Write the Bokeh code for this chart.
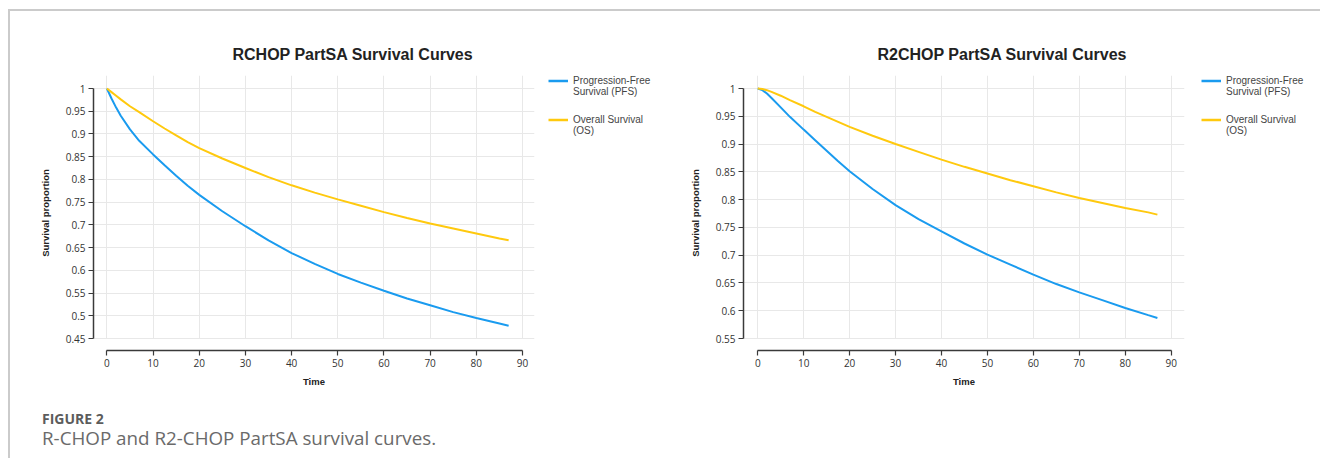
from bokeh.plotting import figure
from bokeh.models import Legend, LegendItem, FixedTicker, Div, Range1d, Grid
from bokeh.layouts import row, column
from bokeh.embed import file_html
from bokeh.resources import INLINE

# ---------------- data ----------------
time = [0, 1, 2, 3, 5, 7, 10, 12.5, 15, 17.5, 20, 25, 30, 35, 40, 45, 50, 55, 60, 65, 70, 75, 80, 85, 87]

rchop_pfs = [1.0, 0.978, 0.958, 0.940, 0.910, 0.885, 0.855, 0.831, 0.808, 0.786, 0.766, 0.730, 0.697,
             0.666, 0.638, 0.614, 0.592, 0.573, 0.555, 0.538, 0.523, 0.508, 0.495, 0.483, 0.478]
rchop_os = [1.0, 0.992, 0.984, 0.976, 0.961, 0.948, 0.928, 0.912, 0.897, 0.882, 0.869, 0.846, 0.825,
            0.805, 0.787, 0.771, 0.756, 0.742, 0.728, 0.715, 0.703, 0.692, 0.681, 0.670, 0.666]

r2chop_pfs = [1.0, 0.997, 0.991, 0.983, 0.966, 0.949, 0.926, 0.907, 0.888, 0.869, 0.851, 0.819, 0.790,
              0.765, 0.743, 0.721, 0.701, 0.683, 0.665, 0.648, 0.633, 0.619, 0.605, 0.592, 0.587]
r2chop_os = [1.0, 0.999, 0.997, 0.994, 0.987, 0.979, 0.968, 0.958, 0.949, 0.940, 0.931, 0.915, 0.900,
             0.886, 0.872, 0.859, 0.847, 0.835, 0.824, 0.813, 0.803, 0.794, 0.785, 0.777, 0.773]

x_ticks = [0, 10, 20, 30, 40, 50, 60, 70, 80, 90]
x_tick_labels = ["0", "10", "20", "30", "40", "50", "60", "70", "80", "90"]

rchop_y_ticks = [0.45, 0.5, 0.55, 0.6, 0.65, 0.7, 0.75, 0.8, 0.85, 0.9, 0.95, 1.0]
rchop_y_labels = ["0.45", "0.5", "0.55", "0.6", "0.65", "0.7", "0.75", "0.8", "0.85", "0.9", "0.95", "1"]
r2chop_y_ticks = [0.55, 0.6, 0.65, 0.7, 0.75, 0.8, 0.85, 0.9, 0.95, 1.0]
r2chop_y_labels = ["0.55", "0.6", "0.65", "0.7", "0.75", "0.8", "0.85", "0.9", "0.95", "1"]

titles = ["RCHOP PartSA Survival Curves", "R2CHOP PartSA Survival Curves"]
pfs_label = ["Progression-Free", "Survival (PFS)"]
os_label = ["Overall Survival", "(OS)"]
x_label = "Time"
y_label = "Survival proportion"
caption_head = "FIGURE 2"
caption_text = "R-CHOP and R2-CHOP PartSA survival curves."

BLUE = "#1a9bef"
YELLOW = "#ffc90e"
GRID = "#e8e8e8"
AXIS = "#3a3a3a"
TICK_FONT = "Open Sans"
BOLD_FONT = "Liberation Sans"
TOP = 58
FIG_H = TOP + 275 + 45


def make_panel(title, pfs, os_, x_range, y_range, y_ticks, y_labels, right_border, title_offset):
    p = figure(
        frame_width=441, frame_height=275,
        x_range=Range1d(*x_range), y_range=Range1d(*y_range),
        min_border_left=83, min_border_right=right_border,
        min_border_top=TOP, min_border_bottom=45,
        output_backend="svg", toolbar_location=None,
        background_fill_color="white", border_fill_color="white",
    )
    p.outline_line_color = None

    # title
    p.title.text = title
    p.title.align = "left"
    p.title.offset = title_offset
    p.title.text_font = BOLD_FONT
    p.title.text_font_style = "bold"
    p.title.text_font_size = "16px"
    p.title.text_color = "#222222"
    p.title.standoff = 25

    # axes
    xt = FixedTicker(ticks=x_ticks)
    yt = FixedTicker(ticks=y_ticks)
    p.xaxis.ticker = xt
    p.yaxis.ticker = yt
    p.xgrid.ticker = xt
    p.ygrid.ticker = yt
    p.xaxis.bounds = (x_ticks[0], x_ticks[-1])
    p.yaxis.bounds = (y_ticks[0], y_ticks[-1])
    p.xaxis.major_label_overrides = {v: s for v, s in zip(x_ticks, x_tick_labels)}
    p.yaxis.major_label_overrides = {v: s for v, s in zip(y_ticks, y_labels)}

    for ax in (p.xaxis[0], p.yaxis[0]):
        ax.axis_line_color = AXIS
        ax.axis_line_width = 1.5
        ax.major_tick_line_color = AXIS
        ax.major_tick_line_width = 1.2
        ax.major_tick_out = 5
        ax.major_tick_in = 0
        ax.minor_tick_line_color = None
        ax.major_label_text_font = TICK_FONT
        ax.major_label_text_font_size = "10px"
        ax.major_label_text_color = "#333333"
        ax.axis_label_text_font = BOLD_FONT
        ax.axis_label_text_font_style = "bold"
        ax.axis_label_text_font_size = "9.5px"
        ax.axis_label_text_color = "#222222"
    p.xaxis.axis_label = x_label
    p.yaxis.axis_label = y_label
    p.xaxis.major_label_standoff = 3
    p.yaxis.major_label_standoff = 3
    p.xaxis.axis_label_standoff = 6
    p.yaxis.axis_label_standoff = 12

    p.xgrid.grid_line_color = GRID
    p.ygrid.grid_line_color = GRID
    p.xgrid.grid_line_width = 1
    p.ygrid.grid_line_width = 1
    if "cross_bounds" in Grid.properties():
        p.xgrid.cross_bounds = (y_ticks[0], y_range[1])

    # curves
    p.line(time, pfs, line_color=BLUE, line_width=2)
    p.line(time, os_, line_color=YELLOW, line_width=2)
    return p


LEGEND_STYLE = dict(
    location="top_left", orientation="vertical", spacing=0, padding=0, margin=0,
    glyph_width=20, glyph_height=11, label_height=11, label_standoff=5,
    label_text_font=BOLD_FONT, label_text_font_size="10px", label_text_color="#444444",
    background_fill_alpha=0, border_line_alpha=0,
)


def make_legend(width, x_off, pfs, os_):
    # a frame whose x range excludes the data: only the legend keys show
    lf = figure(width=width, height=FIG_H, x_axis_type=None, y_axis_type=None,
                x_range=Range1d(-20, -10), y_range=Range1d(0, 1),
                min_border_left=x_off, min_border_right=0,
                min_border_top=64, min_border_bottom=0,
                output_backend="svg", toolbar_location=None,
                background_fill_color="white", border_fill_color="white")
    lf.outline_line_color = None
    k_pfs = lf.line(time, pfs, line_color=BLUE, line_width=2.5)
    k_os = lf.line(time, os_, line_color=YELLOW, line_width=2.5)
    ghost = lf.line(time, pfs, line_alpha=0)
    leg_a = Legend(
        items=[LegendItem(label=pfs_label[0], renderers=[k_pfs]),
               LegendItem(label=pfs_label[1], renderers=[ghost])],
        **LEGEND_STYLE,
    )
    leg_b = Legend(
        items=[LegendItem(label=os_label[0], renderers=[k_os]),
               LegendItem(label=os_label[1], renderers=[ghost])],
        title=" ", title_text_font=BOLD_FONT, title_text_font_size="10px",
        title_standoff=28,
        **LEGEND_STYLE,
    )
    lf.add_layout(leg_a)
    lf.add_layout(leg_b)
    return lf


p1 = make_panel(titles[0], rchop_pfs, rchop_os, (-2.9, 92.6), (0.4236, 1.0286),
                rchop_y_ticks, rchop_y_labels, 14, 139)
l1 = make_legend(112, 0, rchop_pfs, rchop_os)
p2 = make_panel(titles[1], r2chop_pfs, r2chop_os, (-3.1, 92.9), (0.5284, 1.0234),
                r2chop_y_ticks, r2chop_y_labels, 16, 134)
l2 = make_legend(112, 1, r2chop_pfs, r2chop_os)

caption = Div(
    text=(
        '<div style="font-family:\'Open Sans\',sans-serif;font-weight:bold;font-size:14px;'
        'line-height:16px;color:#5c5c5c;">' + caption_head + '</div>'
        '<div style="font-family:\'Open Sans\',sans-serif;font-size:18.8px;line-height:22px;'
        'margin-top:0px;color:#6a6a6a;">' + caption_text + '</div>'
    ),
    width=1300, height=59,
    styles={"padding-left": "27px", "padding-top": "17px", "box-sizing": "border-box"},
)

layout = column(
    row(p1, l1, p2, l2),
    caption,
    styles={"border-top": "2px solid #cbcbcb", "border-left": "2px solid #cbcbcb",
            "margin-top": "9px", "margin-left": "8px"},
)

open("out.html", "w").write(file_html(layout, INLINE))
